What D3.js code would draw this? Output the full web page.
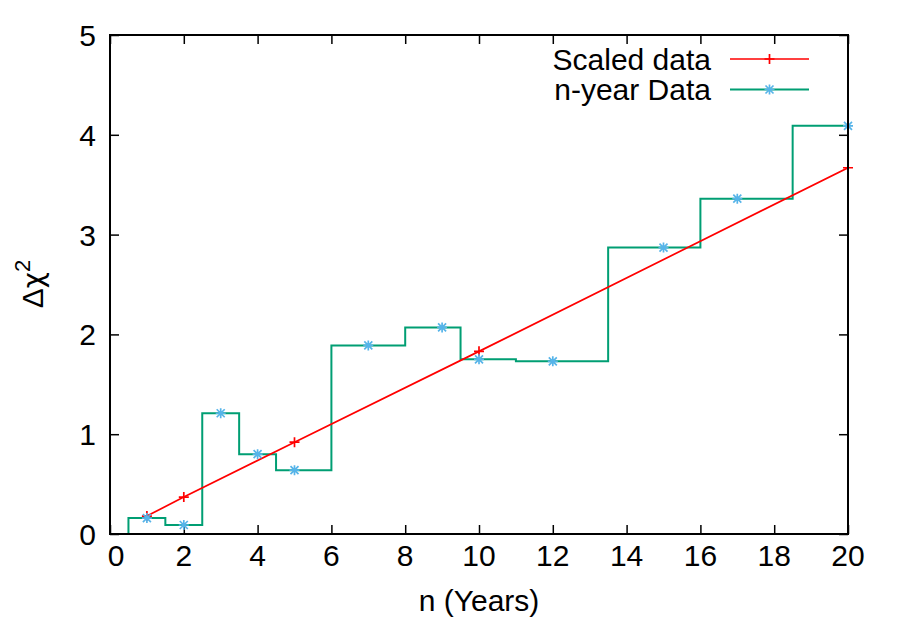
<!DOCTYPE html>
<html>
<head>
<meta charset="utf-8">
<script src="https://cdn.jsdelivr.net/npm/d3@7"></script>
<style>
	body { margin: 0; background: #fff; }
	text { font-family: "Liberation Sans", Arial, sans-serif; fill: #000; }
</style>
</head>
<body>
<svg id="chart" width="900" height="630"></svg>
<script>
// n-year data (histeps)
var yearsN = [1, 2, 3, 4, 5, 7, 9, 10, 12, 15, 17, 20];
var chiN = [0.16, 0.09, 1.21, 0.80, 0.64, 1.89, 2.07, 1.75, 1.73, 2.87, 3.36, 4.09];

// scaled data
var yearsScaled = [1, 2, 5, 10, 20];
var chiScaled = [0.18, 0.37, 0.92, 1.83, 3.67];

var xTicks = [0, 2, 4, 6, 8, 10, 12, 14, 16, 18, 20];
var yTicks = [0, 1, 2, 3, 4, 5];

var legendLabels = ['Scaled data', 'n-year Data'];

var svg = d3.select('#chart');
var plotL = 110, plotR = 848, plotT = 35, plotB = 534;

var x = d3.scaleLinear().domain([0, 20]).range([plotL, plotR]);
var y = d3.scaleLinear().domain([0, 5]).range([plotB, plotT]);

var red = '#ff0000', green = '#009e73', blue = '#56b4e9';

svg.append('defs').append('clipPath').attr('id', 'clip')
	.append('rect').attr('x', plotL).attr('y', plotT)
	.attr('width', plotR - plotL).attr('height', plotB - plotT);

// ticks (inward, mirrored on all sides)
var tickLen = 9;
var axB = d3.axisBottom(x).tickValues(xTicks).tickSize(tickLen).tickFormat('');
var axT = d3.axisTop(x).tickValues(xTicks).tickSize(tickLen).tickFormat('');
var axL = d3.axisLeft(y).tickValues(yTicks).tickSize(tickLen).tickFormat('');
var axR = d3.axisRight(y).tickValues(yTicks).tickSize(tickLen).tickFormat('');

svg.append('g').attr('transform', 'translate(0,' + (plotB - tickLen) + ')').call(axB);
svg.append('g').attr('transform', 'translate(0,' + (plotT + tickLen) + ')').call(axT);
svg.append('g').attr('transform', 'translate(' + (plotL + tickLen) + ',0)').call(axL);
svg.append('g').attr('transform', 'translate(' + (plotR - tickLen) + ',0)').call(axR);
svg.selectAll('.domain').remove();
svg.selectAll('.tick line').attr('stroke', '#000').attr('stroke-width', 1.5);

// tick labels
svg.append('g').selectAll('text').data(xTicks).enter().append('text')
	.attr('x', function(d) { return x(d) + (d === 0 ? 6 : 0); })
	.attr('y', 566)
	.attr('text-anchor', 'middle')
	.style('font-size', '30px')
	.text(function(d) { return d; });

svg.append('g').selectAll('text').data(yTicks).enter().append('text')
	.attr('x', 96)
	.attr('y', function(d) { return y(d) + 11; })
	.attr('text-anchor', 'end')
	.style('font-size', '30px')
	.text(function(d) { return d; });

// axis titles
svg.append('text')
	.attr('x', (plotL + plotR) / 2).attr('y', 611)
	.attr('text-anchor', 'middle')
	.style('font-size', '30px')
	.text('n (Years)');

var ylab = svg.append('text')
	.attr('transform', 'translate(43,284) rotate(-90)')
	.attr('text-anchor', 'middle')
	.style('font-size', '30px');
ylab.append('tspan').text('\u0394');
ylab.append('tspan').style('font-family', '"DejaVu Sans", sans-serif').style('font-size', '28px').text('\u03c7');
ylab.append('tspan').attr('dy', -13).style('font-size', '22px').text('2');

// histeps path for n-year data
function histeps(xs, ys) {
	var pts = [];
	var n = xs.length;
	var first = xs[0] - (xs[1] - xs[0]) / 2;
	var last = xs[n - 1] + (xs[n - 1] - xs[n - 2]) / 2;
	pts.push([first, 0]);
	for (var i = 0; i < n; i++) {
		var a = i === 0 ? first : (xs[i - 1] + xs[i]) / 2;
		var b = i === n - 1 ? last : (xs[i] + xs[i + 1]) / 2;
		pts.push([a, ys[i]]);
		pts.push([b, ys[i]]);
	}
	pts.push([last, 0]);
	return pts;
}

var line = d3.line().x(function(d) { return x(d[0]); }).y(function(d) { return y(d[1]); });

var plot = svg.append('g').attr('clip-path', 'url(#clip)');

plot.append('path')
	.datum(histeps(yearsN, chiN))
	.attr('d', line)
	.attr('fill', 'none')
	.attr('stroke', green)
	.attr('stroke-width', 2);

plot.append('path')
	.datum(yearsScaled.map(function(d, i) { return [d, chiScaled[i]]; }))
	.attr('d', line)
	.attr('fill', 'none')
	.attr('stroke', red)
	.attr('stroke-width', 1.7);

// point shapes
function plus(g, cx, cy, s, col) {
	g.append('path')
		.attr('d', 'M' + (cx - s) + ',' + cy + 'H' + (cx + s) + 'M' + cx + ',' + (cy - s) + 'V' + (cy + s))
		.attr('stroke', col).attr('stroke-width', 1.7).attr('fill', 'none');
}
function star(g, cx, cy, s, col) {
	var d = s * 0.8;
	g.append('path')
		.attr('d', 'M' + (cx - s) + ',' + cy + 'H' + (cx + s) + 'M' + cx + ',' + (cy - s) + 'V' + (cy + s) +
			'M' + (cx - d) + ',' + (cy - d) + 'L' + (cx + d) + ',' + (cy + d) +
			'M' + (cx - d) + ',' + (cy + d) + 'L' + (cx + d) + ',' + (cy - d))
		.attr('stroke', col).attr('stroke-width', 1.7).attr('fill', 'none');
}

var pts = svg.append('g');
yearsScaled.forEach(function(d, i) { plus(pts, x(d), y(chiScaled[i]), 5, red); });
yearsN.forEach(function(d, i) { star(pts, x(d), y(chiN[i]), 5, blue); });

// frame
svg.append('rect')
	.attr('x', plotL).attr('y', plotT)
	.attr('width', plotR - plotL).attr('height', plotB - plotT)
	.attr('fill', 'none').attr('stroke', '#000').attr('stroke-width', 2);

// legend
var legend = svg.append('g');
var legendCols = [red, green];
legendLabels.forEach(function(lab, i) {
	var ly = 59 + i * 30.5;
	legend.append('text')
		.attr('x', 711).attr('y', ly + 10.5)
		.attr('text-anchor', 'end')
		.style('font-size', '30px')
		.text(lab);
	legend.append('line')
		.attr('x1', 730).attr('x2', 809).attr('y1', ly).attr('y2', ly)
		.attr('stroke', legendCols[i]).attr('stroke-width', i === 0 ? 1.7 : 2);
	if (i === 0) plus(legend, 769.5, ly, 5, red);
	else star(legend, 769.5, ly, 5, blue);
});
</script>
</body>
</html>
